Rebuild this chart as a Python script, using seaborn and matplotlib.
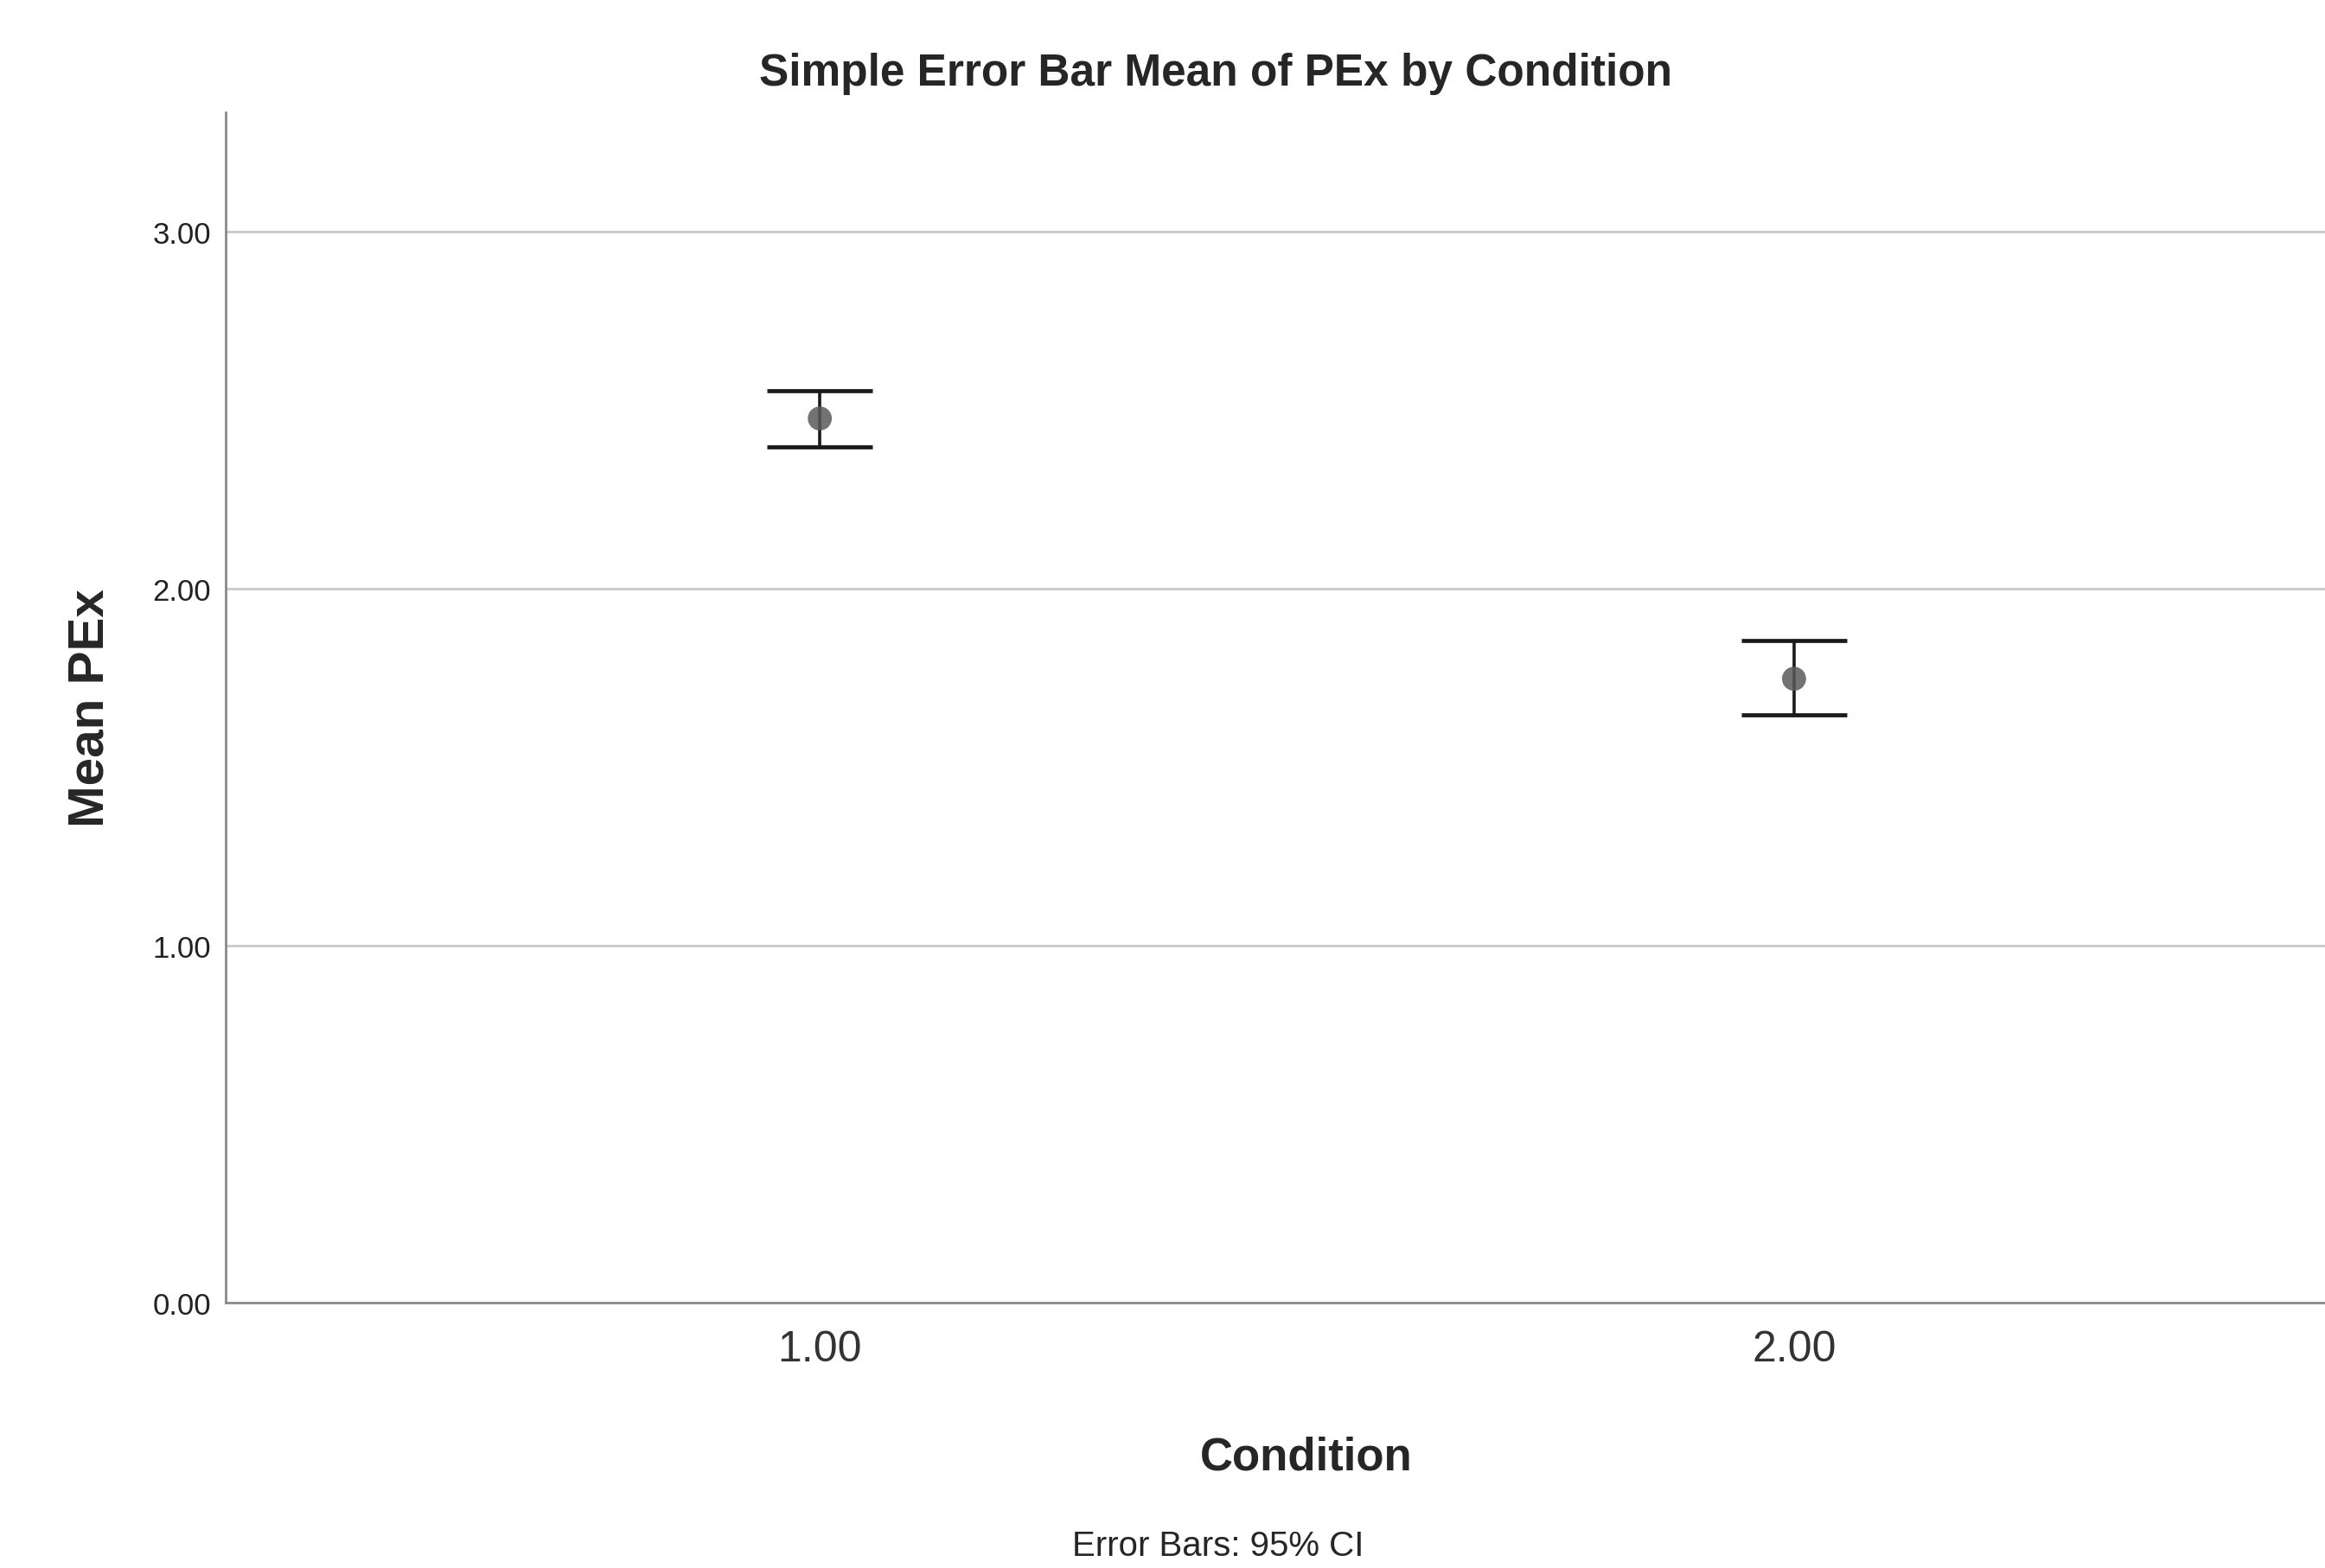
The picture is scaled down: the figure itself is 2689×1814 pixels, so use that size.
import numpy as np
import pandas as pd
import matplotlib
matplotlib.use("Agg")
import matplotlib.pyplot as plt
import seaborn as sns

# values
conditions = [1.0, 2.0]
means = [2.477, 1.748]
ci_low = [2.397, 1.646]
ci_high = [2.554, 1.855]
y_ticks = [0.0, 1.0, 2.0, 3.0]

df = pd.DataFrame({"Condition": conditions, "Mean PEx": means})

sns.set_style("white")
plt.rcParams['font.family'] = ['Liberation Sans', 'DejaVu Sans']

fig = plt.figure(figsize=(13.445, 9.075), dpi=200)
ax = fig.add_axes([0.097, 0.169, 0.903, 0.759])

# grid lines first so marks sit on top
for t in y_ticks[1:]:
    ax.axhline(t, color="#c8c8c8", lw=1.0, zorder=0)

yerr = np.array([np.array(means) - np.array(ci_low), np.array(ci_high) - np.array(means)])
ax.errorbar(conditions, means, yerr=yerr, fmt="none", ecolor="#1a1a1a",
            elinewidth=1.3, capsize=22, capthick=1.7, zorder=2)
sns.scatterplot(data=df, x="Condition", y="Mean PEx", ax=ax, s=100,
                color="#5a5a5a", alpha=0.85, edgecolor="none", zorder=3)

ax.set_xlim(0.39, 2.545)
ax.set_ylim(0, 3.335)
ax.set_xticks(conditions)
ax.set_xticklabels([f"{c:.2f}" for c in conditions], fontsize=18, color="#333333")
ax.set_yticks(y_ticks)
ax.set_yticklabels([f"{t:.2f}" for t in y_ticks], fontsize=12.5, color="#222222")
ax.tick_params(axis="x", length=0, pad=11)
ax.tick_params(axis="y", length=0, pad=6)
ax.set_xlabel("")
ax.set_ylabel("")

for s in ["top", "right"]:
    ax.spines[s].set_visible(False)
for s in ["left", "bottom"]:
    ax.spines[s].set_color("#8a8a8a")
    ax.spines[s].set_linewidth(1.0)

fig.text(0.523, 0.953, "Simple Error Bar Mean of PEx by Condition",
         ha="center", va="center", fontsize=18.5, fontweight="bold")
fig.text(0.562, 0.071, "Condition", ha="center", va="center",
         fontsize=19, fontweight="bold")
fig.text(0.039, 0.549, "Mean PEx", ha="center", va="center",
         fontsize=21, fontweight="bold", rotation=90)
fig.text(0.524, 0.004, "Error Bars: 95% CI", ha="center", va="bottom",
         fontsize=14.5)

fig.savefig("out.png", dpi=200)
